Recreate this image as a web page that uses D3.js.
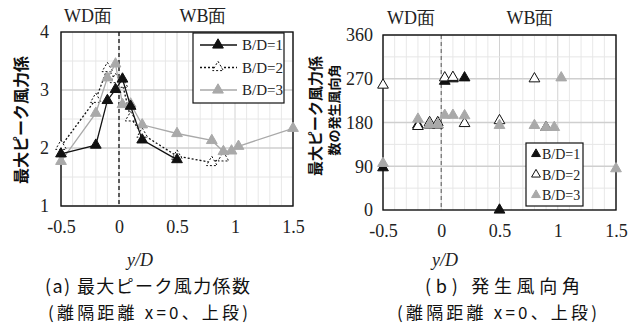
<!DOCTYPE html>
<html>
<head>
<meta charset="utf-8">
<script src="https://cdn.jsdelivr.net/npm/d3@7"></script>
<style>
  body { margin: 0; background: #fff; }
  svg { display: block; }
  .serif { font-family: "Liberation Serif", "Times New Roman", Times, "Nimbus Roman", "Noto Serif", "DejaVu Serif", FreeSerif, serif; }
</style>
</head>
<body>
<svg id="fig" width="641" height="329"></svg>
<script>
// data
var seriesNames = ["B/D=1", "B/D=2", "B/D=3"];
var xs1 = [-0.5, -0.2, -0.1, -0.03, 0.03, 0.1, 0.2, 0.5];
var xs2 = [-0.5, -0.2, -0.1, -0.03, 0.03, 0.1, 0.2, 0.5, 0.8, 0.9];
var xs3 = [-0.5, -0.2, -0.1, -0.03, 0.03, 0.1, 0.2, 0.5, 0.8, 0.9, 0.97, 1.03, 1.5];

// (a) max peak force coefficient
var cf1 = [1.90, 2.05, 2.82, 3.01, 3.19, 2.72, 2.14, 1.80];
var cf2 = [2.03, 2.84, 3.37, 3.18, 3.10, 2.52, 2.24, 1.86, 1.75, 1.83];
var cf3 = [1.77, 2.60, 3.21, 3.45, 2.75, 2.76, 2.40, 2.25, 2.13, 1.94, 1.95, 2.03, 2.34];

// (b) wind direction angle
var ang1 = [87, 175, 175, 175, 265, 270, 272, 0];
var ang2 = [257, 172, 180, 180, 272, 273, 178, 184, 270, 170];
var ang3 = [96, 187, 176, 176, 195, 195, 194, 174, 174, 170, 170, 272, 85];

var xTicks = [-0.5, 0, 0.5, 1, 1.5];
var yTicksA = [1, 2, 3, 4];
var yTicksB = [0, 90, 180, 270, 360];

var svg = d3.select("#fig");
var GRAY = "#a9a9a9";
var jp = "Noto Sans CJK JP, sans-serif";

var tri = d3.symbol().type(d3.symbolTriangle).size(50);

function panel(o) {
  var x = d3.scaleLinear().domain([-0.5, 1.5]).range([o.left, o.right]);
  var y = d3.scaleLinear().domain(o.yDomain).range([o.bottom, o.top]);
  var g = svg.append("g");

  // grid
  g.selectAll(".vg").data(d3.range(-5, 16).map(function(i) { return i / 10; }))
    .enter().append("line")
    .attr("x1", function(d) { return x(d); }).attr("x2", function(d) { return x(d); })
    .attr("y1", o.top).attr("y2", o.bottom)
    .attr("stroke", function(d, i) { return i % 5 == 0 ? "#d2d2d2" : "#e8e8e8"; })
    .attr("stroke-width", 1);
  g.selectAll(".hg").data(o.hGrid)
    .enter().append("line")
    .attr("x1", o.left).attr("x2", o.right)
    .attr("y1", function(d) { return y(d); }).attr("y2", function(d) { return y(d); })
    .attr("stroke", function(d) { return o.yTicks.indexOf(d) >= 0 ? "#cfcfcf" : "#e6e6e6"; })
    .attr("stroke-width", function(d) { return o.yTicks.indexOf(d) >= 0 ? 1.5 : 1; });

  // dashed zero line
  g.append("line")
    .attr("x1", x(0)).attr("x2", x(0)).attr("y1", o.top).attr("y2", o.bottom)
    .attr("stroke", o.zeroColor).attr("stroke-width", 1.3)
    .attr("stroke-dasharray", "4,3");

  // axes
  var xa = g.append("g").attr("transform", "translate(0," + o.bottom + ")")
    .call(d3.axisBottom(x).tickValues(xTicks).tickSize(0).tickPadding(14)
      .tickFormat(function(d) { return String(d); }));
  var ya = g.append("g").attr("transform", "translate(" + o.left + ",0)")
    .call(d3.axisLeft(y).tickValues(o.yTicks).tickSize(0).tickPadding(o.yPad)
      .tickFormat(function(d) { return String(d); }));
  [xa, ya].forEach(function(a) {
    a.select(".domain").remove();
    a.attr("font-family", null).attr("font-size", 18);
    a.selectAll("text").attr("class", "serif").attr("fill", "#222");
  });

  // frame
  g.append("rect")
    .attr("x", o.left).attr("y", o.top)
    .attr("width", o.right - o.left).attr("height", o.bottom - o.top)
    .attr("fill", "none").attr("stroke", "#111").attr("stroke-width", 1.4);

  // WD / WB labels
  g.append("text").attr("class", "serif").attr("x", o.wd).attr("y", o.labY).attr("text-anchor", "middle")
    .attr("font-size", 18).attr("fill", "#222")
    .text("WD面");
  g.append("text").attr("class", "serif").attr("x", o.wb).attr("y", o.labY).attr("text-anchor", "middle")
    .attr("font-size", 18).attr("fill", "#222")
    .text("WB面");

  return { g: g, x: x, y: y };
}

function marks(p, xs, vs, fill, stroke, line, dash) {
  var pts = xs.map(function(d, i) { return [d, vs[i]]; });
  if (line) {
    p.g.append("path").datum(pts)
      .attr("d", d3.line().x(function(d) { return p.x(d[0]); }).y(function(d) { return p.y(d[1]); }))
      .attr("fill", "none").attr("stroke", line).attr("stroke-width", 1.3)
      .attr("stroke-dasharray", dash);
  }
  p.g.selectAll(null).data(pts).enter().append("path")
    .attr("d", tri)
    .attr("transform", function(d) { return "translate(" + p.x(d[0]) + "," + p.y(d[1]) + ")"; })
    .attr("fill", fill).attr("stroke", stroke).attr("stroke-width", 1)
    .attr("stroke-dasharray", dash);
}

// ---- (a)
var pa = panel({ left: 61, right: 293, top: 32, bottom: 206, yDomain: [1, 4],
  yTicks: yTicksA, hGrid: d3.range(2, 8).map(function(i) { return i / 2; }), yPad: 12,
  zeroColor: "#111", wd: 88, wb: 203, labY: 22 });
marks(pa, xs2, cf2, "#fff", "#111", "#111", "2,2");
marks(pa, xs3, cf3, GRAY, GRAY, GRAY, null);
marks(pa, xs1, cf1, "#111", "#111", "#111", null);

// legend (a)
var la = svg.append("g");
la.append("rect").attr("x", 193).attr("y", 33).attr("width", 91).attr("height", 70)
  .attr("fill", "#fff").attr("stroke", "#111").attr("stroke-width", 1.2);
var legStyle = [
  { fill: "#111", stroke: "#111", line: "#111", dash: null },
  { fill: "#fff", stroke: "#111", line: "#111", dash: "2,2" },
  { fill: GRAY, stroke: GRAY, line: GRAY, dash: null }
];
seriesNames.forEach(function(n, i) {
  var yy = 45 + i * 22.5;
  la.append("line").attr("x1", 200).attr("x2", 237).attr("y1", yy).attr("y2", yy)
    .attr("stroke", legStyle[i].line).attr("stroke-width", 1.3).attr("stroke-dasharray", legStyle[i].dash);
  la.append("path").attr("d", tri).attr("transform", "translate(218," + yy + ")")
    .attr("fill", legStyle[i].fill).attr("stroke", legStyle[i].stroke).attr("stroke-dasharray", legStyle[i].dash);
  la.append("text").attr("class", "serif").attr("x", 242).attr("y", yy + 5)
    .attr("font-size", 15).attr("fill", "#222").text(n);
});

// ---- (b)
var pb = panel({ left: 383, right: 616, top: 35, bottom: 210, yDomain: [0, 360],
  yTicks: yTicksB, hGrid: d3.range(1, 9).map(function(i) { return i * 45; }), yPad: 10,
  zeroColor: "#777", wd: 411, wb: 530, labY: 24 });
marks(pb, xs1, ang1, "#111", "#111", null, null);
marks(pb, xs2, ang2, "#fff", "#111", null, null);
marks(pb, xs3, ang3, GRAY, GRAY, null, null);

// legend (b)
var lb = svg.append("g");
lb.append("rect").attr("x", 526).attr("y", 143).attr("width", 57).attr("height", 63)
  .attr("fill", "#fff").attr("stroke", "#111").attr("stroke-width", 1.2);
seriesNames.forEach(function(n, i) {
  var yy = 154 + i * 20.5;
  lb.append("path").attr("d", d3.symbol().type(d3.symbolTriangle).size(34))
    .attr("transform", "translate(536," + yy + ")")
    .attr("fill", legStyle[i].fill).attr("stroke", legStyle[i].stroke);
  lb.append("text").attr("class", "serif").attr("x", 542).attr("y", yy + 5)
    .attr("font-size", 14).attr("fill", "#222").text(n);
});

// y axis titles (rotated)
function vtext(x, y, s, size) {
  svg.append("text").attr("transform", "translate(" + x + "," + y + ") rotate(-90)")
    .attr("text-anchor", "middle").attr("dy", "0.35em")
    .attr("font-family", jp).attr("font-weight", "bold").attr("font-size", size)
    .attr("fill", "#111").text(s);
}
vtext(21, 120, "最大ピーク風力係", 16);
vtext(316, 116, "最大ピーク風力係", 15);
vtext(334, 110, "数の発生風向角", 13);

// x axis titles and captions
[{ cx: 140, c1: "(a) 最大ピーク風力係数", c1x: 45, c1w: 205, c2x: 48 },
 { cx: 445, c1: "(b) 発生風向角", c1x: 425, c1w: 155, c2x: 397 }].forEach(function(c) {
  svg.append("text").attr("class", "serif").attr("x", c.cx).attr("y", 266).attr("text-anchor", "middle")
    .attr("font-style", "italic").attr("font-size", 18)
    .attr("fill", "#222").text("y/D");
  svg.append("text").attr("x", c.c1x).attr("y", 293)
    .attr("font-family", jp).attr("font-size", 18)
    .attr("textLength", c.c1w).attr("lengthAdjust", "spacing")
    .attr("fill", "#111").text(c.c1);
  svg.append("text").attr("x", c.c2x).attr("y", 319)
    .attr("font-family", jp).attr("font-size", 17)
    .attr("textLength", 200).attr("lengthAdjust", "spacing")
    .attr("fill", "#111").text("(離隔距離 x=0、上段)");
});
</script>
</body>
</html>
